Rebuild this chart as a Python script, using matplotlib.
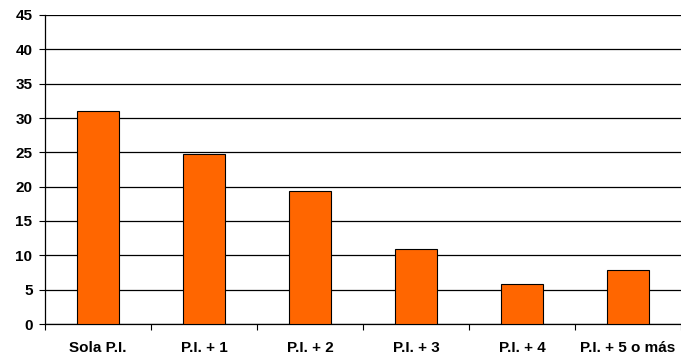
import numpy as np
import matplotlib.pyplot as plt

# categorías y porcentajes
categorias = ['Sola P.I.', 'P.I. + 1', 'P.I. + 2', 'P.I. + 3', 'P.I. + 4', 'P.I. + 5 o más']
valores = [31.0, 24.8, 19.4, 10.9, 5.8, 7.9]

plt.rcParams['font.family'] = ['Liberation Sans', 'DejaVu Sans']
plt.rcParams['font.weight'] = 'bold'

fig = plt.figure(figsize=(6.81, 3.55), dpi=100)
ax = fig.add_axes([45/681, 31/355, 636/681, 309/355])

x = np.arange(len(categorias))
ax.bar(x, valores, width=0.4, color='#FF6600', edgecolor='black', linewidth=0.8, zorder=3)

ax.set_xlim(-0.5, len(categorias) - 0.5)
ax.set_ylim(0, 45)
ax.set_yticks(np.arange(0, 46, 5))
ax.yaxis.grid(True, color='black', linewidth=0.9, zorder=0)

# etiquetas centradas en las categorías, marcas en los límites
ax.set_xticks(np.arange(-0.5, len(categorias), 1.0))
ax.set_xticklabels([])
ax.set_xticks(x, minor=True)
ax.set_xticklabels(categorias, minor=True, fontsize=11, fontweight='bold')
ax.tick_params(axis='x', which='minor', length=0, pad=12)
ax.tick_params(axis='x', which='major', length=4, width=0.8, direction='out')
ax.tick_params(axis='y', length=4, width=0.8, pad=5, labelsize=11)
for lab in ax.get_yticklabels():
    lab.set_fontweight('bold')

for s in ['top', 'right']:
    ax.spines[s].set_visible(False)
ax.spines['left'].set_linewidth(0.9)
ax.spines['bottom'].set_linewidth(0.9)

plt.savefig('out.png', dpi=100)
